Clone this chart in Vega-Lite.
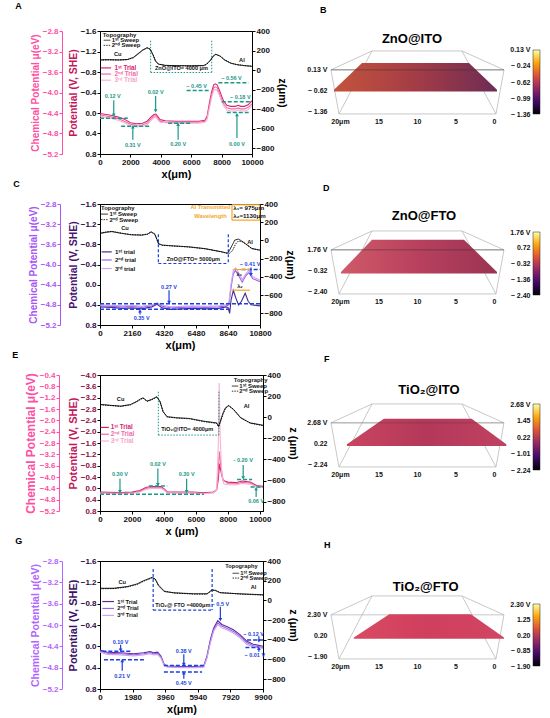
{
"$schema":"https://vega.github.io/schema/vega-lite/v6.json",
"background":"white",
"padding":{"left":11,"top":1,"right":2,"bottom":2},
"columns":3,
"bounds":"flush",
"align":"each",
"spacing":{"row":50,"column":26},
"resolve":{"scale":{"color":"independent","fill":"independent","size":"independent","shape":"independent","strokeDash":"independent"}},
"config":{"font":"Liberation Sans","view":{"stroke":"#000","strokeWidth":1},
"axis":{"grid":false,"labelFontSize":8,"labelFontWeight":"bold","labelColor":"#111","titleFontSize":11,"titleFontWeight":"bold","titleColor":"#000","domainColor":"#000","tickColor":"#000","tickSize":3,"labelPadding":1,"titlePadding":2,"labelFlush":false,"labelOverlap":false},
"title":{"font":"Liberation Sans"},"text":{"font":"Liberation Sans"}},
"datasets":{
"box":[{"x":21.17,"x2":-1.30,"u":2,"u2":2},{"x":15.84,"x2":4.16,"u":2.9,"u2":2.9},{"x":21.17,"x2":15.84,"u":2,"u2":2.9},{"x":-1.30,"x2":4.16,"u":2,"u2":2.9},{"x":21.17,"x2":20.13,"u":2,"u2":-0.1},{"x":-1.30,"x2":-0.26,"u":2,"u2":-0.1},{"x":20.13,"x2":-0.26,"u":-0.1,"u2":-0.1},{"x":15.84,"x2":20.13,"u":2.9,"u2":-0.1},{"x":4.16,"x2":-0.26,"u":2.9,"u2":-0.1}],
"front":[{"x":21.17,"x2":-1.30,"u":2,"u2":2}],
"B_surf":[{"x":20.78,"top":1.05,"bot":0.97},{"x":17.14,"top":2.33,"bot":0.97},{"x":3.25,"top":2.33,"bot":0.97},{"x":-0.39,"top":1.05,"bot":0.97}],
"D_surf":[{"x":19.87,"top":0.95,"bot":0.87},{"x":15.84,"top":2.48,"bot":0.87},{"x":3.9,"top":2.48,"bot":0.87},{"x":-0.39,"top":0.95,"bot":0.87}],
"F_surf":[{"x":19.1,"top":0.98,"bot":0.9},{"x":14.3,"top":2.19,"bot":0.9},{"x":2.9,"top":2.19,"bot":0.9},{"x":-1.6,"top":0.98,"bot":0.9}],
"H_surf":[{"x":18.2,"top":0.92,"bot":0.86},{"x":13.6,"top":2.03,"bot":0.86},{"x":3.0,"top":2.03,"bot":0.86},{"x":-1.3,"top":0.92,"bot":0.86}],

"A_tr":[
{"t":"1st","x":0,"p":0.01},{"t":"1st","x":400,"p":0.03},{"t":"1st","x":800,"p":0.05},{"t":"1st","x":1200,"p":0.08},{"t":"1st","x":1600,"p":0.12},{"t":"1st","x":2000,"p":0.19},{"t":"1st","x":2400,"p":0.21},{"t":"1st","x":2800,"p":0.20},{"t":"1st","x":3100,"p":0.16},{"t":"1st","x":3350,"p":0.08},{"t":"1st","x":3550,"p":0.03},{"t":"1st","x":3680,"p":0.02},{"t":"1st","x":3800,"p":0.07},{"t":"1st","x":3950,"p":0.13},{"t":"1st","x":4300,"p":0.15},{"t":"1st","x":5000,"p":0.16},{"t":"1st","x":5800,"p":0.16},{"t":"1st","x":6500,"p":0.16},{"t":"1st","x":6900,"p":0.14},{"t":"1st","x":7050,"p":0.06},{"t":"1st","x":7200,"p":-0.2},{"t":"1st","x":7350,"p":-0.42},{"t":"1st","x":7480,"p":-0.55},{"t":"1st","x":7580,"p":-0.57},{"t":"1st","x":7700,"p":-0.55},{"t":"1st","x":7850,"p":-0.45},{"t":"1st","x":8000,"p":-0.33},{"t":"1st","x":8150,"p":-0.22},{"t":"1st","x":8350,"p":-0.15},{"t":"1st","x":8600,"p":-0.13},{"t":"1st","x":8900,"p":-0.13},{"t":"1st","x":9100,"p":-0.15},{"t":"1st","x":9250,"p":-0.13},{"t":"1st","x":9500,"p":-0.13},{"t":"1st","x":9750,"p":-0.16},{"t":"1st","x":10000,"p":-0.24},
{"t":"2nd","x":0,"p":0.04},{"t":"2nd","x":400,"p":0.06},{"t":"2nd","x":800,"p":0.08},{"t":"2nd","x":1200,"p":0.11},{"t":"2nd","x":1600,"p":0.16},{"t":"2nd","x":2000,"p":0.22},{"t":"2nd","x":2400,"p":0.24},{"t":"2nd","x":2800,"p":0.23},{"t":"2nd","x":3100,"p":0.20},{"t":"2nd","x":3350,"p":0.12},{"t":"2nd","x":3550,"p":0.06},{"t":"2nd","x":3680,"p":0.05},{"t":"2nd","x":3800,"p":0.10},{"t":"2nd","x":3950,"p":0.16},{"t":"2nd","x":4300,"p":0.18},{"t":"2nd","x":5000,"p":0.18},{"t":"2nd","x":5800,"p":0.18},{"t":"2nd","x":6500,"p":0.18},{"t":"2nd","x":6900,"p":0.16},{"t":"2nd","x":7050,"p":0.09},{"t":"2nd","x":7200,"p":-0.14},{"t":"2nd","x":7350,"p":-0.36},{"t":"2nd","x":7480,"p":-0.49},{"t":"2nd","x":7580,"p":-0.51},{"t":"2nd","x":7700,"p":-0.49},{"t":"2nd","x":7850,"p":-0.39},{"t":"2nd","x":8000,"p":-0.27},{"t":"2nd","x":8150,"p":-0.17},{"t":"2nd","x":8350,"p":-0.10},{"t":"2nd","x":8600,"p":-0.08},{"t":"2nd","x":8900,"p":-0.08},{"t":"2nd","x":9100,"p":-0.10},{"t":"2nd","x":9250,"p":-0.08},{"t":"2nd","x":9500,"p":-0.08},{"t":"2nd","x":9750,"p":-0.11},{"t":"2nd","x":10000,"p":-0.18},
{"t":"3rd","x":0,"p":0.06},{"t":"3rd","x":400,"p":0.09},{"t":"3rd","x":800,"p":0.11},{"t":"3rd","x":1200,"p":0.14},{"t":"3rd","x":1600,"p":0.19},{"t":"3rd","x":2000,"p":0.25},{"t":"3rd","x":2400,"p":0.27},{"t":"3rd","x":2800,"p":0.26},{"t":"3rd","x":3100,"p":0.23},{"t":"3rd","x":3350,"p":0.15},{"t":"3rd","x":3550,"p":0.09},{"t":"3rd","x":3680,"p":0.08},{"t":"3rd","x":3800,"p":0.13},{"t":"3rd","x":3950,"p":0.18},{"t":"3rd","x":4300,"p":0.19},{"t":"3rd","x":5000,"p":0.20},{"t":"3rd","x":5800,"p":0.20},{"t":"3rd","x":6500,"p":0.20},{"t":"3rd","x":6900,"p":0.18},{"t":"3rd","x":7050,"p":0.12},{"t":"3rd","x":7200,"p":-0.10},{"t":"3rd","x":7350,"p":-0.31},{"t":"3rd","x":7480,"p":-0.44},{"t":"3rd","x":7580,"p":-0.46},{"t":"3rd","x":7700,"p":-0.44},{"t":"3rd","x":7850,"p":-0.35},{"t":"3rd","x":8000,"p":-0.23},{"t":"3rd","x":8150,"p":-0.13},{"t":"3rd","x":8350,"p":-0.06},{"t":"3rd","x":8600,"p":-0.04},{"t":"3rd","x":8900,"p":-0.04},{"t":"3rd","x":9100,"p":-0.06},{"t":"3rd","x":9250,"p":-0.05},{"t":"3rd","x":9500,"p":-0.04},{"t":"3rd","x":9750,"p":-0.07},{"t":"3rd","x":10000,"p":-0.14}],
"A_topo":[
{"s":"1st","x":0,"z":105},{"s":"1st","x":600,"z":106},{"s":"1st","x":1200,"z":104},{"s":"1st","x":1800,"z":108},{"s":"1st","x":2200,"z":130},{"s":"1st","x":2500,"z":168},{"s":"1st","x":2800,"z":205},{"s":"1st","x":3100,"z":230},{"s":"1st","x":3300,"z":212},{"s":"1st","x":3500,"z":150},{"s":"1st","x":3650,"z":90},{"s":"1st","x":3850,"z":60},{"s":"1st","x":4300,"z":48},{"s":"1st","x":5000,"z":45},{"s":"1st","x":6000,"z":44},{"s":"1st","x":6800,"z":46},{"s":"1st","x":7000,"z":60},{"s":"1st","x":7250,"z":100},{"s":"1st","x":7450,"z":145},{"s":"1st","x":7620,"z":162},{"s":"1st","x":7900,"z":142},{"s":"1st","x":8200,"z":102},{"s":"1st","x":8600,"z":70},{"s":"1st","x":9000,"z":55},{"s":"1st","x":9500,"z":45},{"s":"1st","x":10000,"z":38},
{"s":"2nd","x":0,"z":102},{"s":"2nd","x":600,"z":104},{"s":"2nd","x":1200,"z":102},{"s":"2nd","x":1800,"z":106},{"s":"2nd","x":2200,"z":126},{"s":"2nd","x":2500,"z":162},{"s":"2nd","x":2800,"z":200},{"s":"2nd","x":3100,"z":226},{"s":"2nd","x":3300,"z":214},{"s":"2nd","x":3500,"z":156},{"s":"2nd","x":3650,"z":96},{"s":"2nd","x":3850,"z":62},{"s":"2nd","x":4300,"z":46},{"s":"2nd","x":5000,"z":43},{"s":"2nd","x":6000,"z":42},{"s":"2nd","x":6800,"z":44},{"s":"2nd","x":7000,"z":56},{"s":"2nd","x":7250,"z":94},{"s":"2nd","x":7450,"z":140},{"s":"2nd","x":7620,"z":160},{"s":"2nd","x":7900,"z":145},{"s":"2nd","x":8200,"z":106},{"s":"2nd","x":8600,"z":72},{"s":"2nd","x":9000,"z":56},{"s":"2nd","x":9500,"z":46},{"s":"2nd","x":10000,"z":40}],
"A_seg":[{"x":0,"x2":1830,"p":0.10},{"x":1390,"x2":3270,"p":0.26},{"x":4480,"x2":6030,"p":0.20},{"x":5700,"x2":7240,"p":-0.44},{"x":7790,"x2":9780,"p":-0.59},{"x":8010,"x2":10000,"p":-0.22},{"x":8340,"x2":9780,"p":-0.01}],
"A_box":[{"x":3330,"x2":3330,"p":-1.41,"p2":-0.79},{"x":7350,"x2":7350,"p":-1.41,"p2":-0.79},{"x":3330,"x2":7350,"p":-0.79,"p2":-0.79}],
"A_arr":[{"x":905,"p1":-0.25,"p2":0.04,"d":"down"},{"x":3660,"p1":-0.33,"p2":-0.04,"d":"down"},{"x":2160,"p1":0.52,"p2":0.27,"d":"up"},{"x":5140,"p1":0.52,"p2":0.22,"d":"up"},{"x":9010,"p1":0.49,"p2":0.03,"d":"up"}],
"A_lg":[{"x":70,"x2":730,"p":-0.88,"t":"1st"},{"x":70,"x2":730,"p":-0.76,"t":"2nd"},{"x":70,"x2":730,"p":-0.64,"t":"3rd"}],
"A_tlg":[{"x":240,"x2":680,"p":-1.42,"s":"1st"},{"x":240,"x2":680,"p":-1.32,"s":"2nd"}],
"A_txt":[{"x":840,"p":-0.33,"t":"0.12 V","k":"lab"},{"x":3660,"p":-0.41,"t":"0.02 V","k":"lab"},{"x":2160,"p":0.62,"t":"0.31 V","k":"lab"},{"x":5140,"p":0.60,"t":"0.20 V","k":"lab"},{"x":6360,"p":-0.52,"t":"− 0.45 V","k":"lab"},{"x":8650,"p":-0.69,"t":"− 0.56 V","k":"lab"},{"x":9230,"p":-0.31,"t":"− 0.18 V","k":"lab"},{"x":9010,"p":0.60,"t":"0.00 V","k":"lab"},{"x":5360,"p":-0.87,"t":"ZnO@ITO= 4000 μm","k":"box"},{"x":1170,"p":-1.15,"t":"Cu","k":"cu"},{"x":9340,"p":-1.03,"t":"Al","k":"cu"}],
"A_ltxt":[{"x":177,"p":-1.52,"t":"Topography","k":"ttl"},{"x":770,"p":-1.42,"t":"1ˢᵗ Sweep","k":"sw"},{"x":770,"p":-1.32,"t":"2ⁿᵈ Sweep","k":"sw"},{"x":950,"p":-0.88,"t":"1ˢᵗ Trial","k":"p1"},{"x":950,"p":-0.76,"t":"2ⁿᵈ Trial","k":"p2"},{"x":950,"p":-0.64,"t":"3ʳᵈ Trial","k":"p3"}],

"C_tr":[
{"t":"1st","x":0,"p":0.44},{"t":"1st","x":800,"p":0.45},{"t":"1st","x":1500,"p":0.47},{"t":"1st","x":2200,"p":0.46},{"t":"1st","x":2800,"p":0.48},{"t":"1st","x":3500,"p":0.44},{"t":"1st","x":3850,"p":0.39},{"t":"1st","x":4200,"p":0.46},{"t":"1st","x":4800,"p":0.49},{"t":"1st","x":5500,"p":0.48},{"t":"1st","x":6300,"p":0.47},{"t":"1st","x":7100,"p":0.48},{"t":"1st","x":8000,"p":0.47},{"t":"1st","x":8500,"p":0.44},{"t":"1st","x":8640,"p":0.45},{"t":"1st","x":8750,"p":0.57},{"t":"1st","x":8850,"p":0.30},{"t":"1st","x":9000,"p":0.11},{"t":"1st","x":9150,"p":0.25},{"t":"1st","x":9350,"p":0.40},{"t":"1st","x":9550,"p":0.33},{"t":"1st","x":9800,"p":0.17},{"t":"1st","x":10000,"p":0.33},{"t":"1st","x":10200,"p":0.40},{"t":"1st","x":10800,"p":0.42},
{"t":"2nd","x":0,"p":0.42},{"t":"2nd","x":800,"p":0.43},{"t":"2nd","x":1500,"p":0.44},{"t":"2nd","x":2200,"p":0.43},{"t":"2nd","x":2800,"p":0.45},{"t":"2nd","x":3500,"p":0.42},{"t":"2nd","x":3850,"p":0.37},{"t":"2nd","x":4200,"p":0.43},{"t":"2nd","x":4800,"p":0.46},{"t":"2nd","x":5500,"p":0.45},{"t":"2nd","x":6300,"p":0.44},{"t":"2nd","x":7100,"p":0.45},{"t":"2nd","x":8000,"p":0.44},{"t":"2nd","x":8500,"p":0.42},{"t":"2nd","x":8700,"p":0.40},{"t":"2nd","x":8850,"p":0.05},{"t":"2nd","x":9000,"p":-0.22},{"t":"2nd","x":9150,"p":-0.28},{"t":"2nd","x":9350,"p":-0.18},{"t":"2nd","x":9600,"p":-0.05},{"t":"2nd","x":9850,"p":-0.18},{"t":"2nd","x":10050,"p":-0.24},{"t":"2nd","x":10300,"p":-0.12},{"t":"2nd","x":10800,"p":-0.06},
{"t":"3rd","x":0,"p":0.40},{"t":"3rd","x":800,"p":0.41},{"t":"3rd","x":1500,"p":0.42},{"t":"3rd","x":2200,"p":0.41},{"t":"3rd","x":2800,"p":0.43},{"t":"3rd","x":3500,"p":0.40},{"t":"3rd","x":3850,"p":0.36},{"t":"3rd","x":4200,"p":0.41},{"t":"3rd","x":4800,"p":0.44},{"t":"3rd","x":5500,"p":0.43},{"t":"3rd","x":6300,"p":0.42},{"t":"3rd","x":7100,"p":0.43},{"t":"3rd","x":8000,"p":0.42},{"t":"3rd","x":8500,"p":0.40},{"t":"3rd","x":8700,"p":0.36},{"t":"3rd","x":8850,"p":-0.02},{"t":"3rd","x":9000,"p":-0.28},{"t":"3rd","x":9150,"p":-0.33},{"t":"3rd","x":9350,"p":-0.24},{"t":"3rd","x":9600,"p":-0.10},{"t":"3rd","x":9850,"p":-0.22},{"t":"3rd","x":10050,"p":-0.28},{"t":"3rd","x":10300,"p":-0.16},{"t":"3rd","x":10800,"p":-0.09}],
"C_topo":[
{"s":"1st","x":0,"z":77},{"s":"1st","x":450,"z":90},{"s":"1st","x":800,"z":97},{"s":"1st","x":1200,"z":85},{"s":"1st","x":1500,"z":77},{"s":"1st","x":2100,"z":62},{"s":"1st","x":2800,"z":58},{"s":"1st","x":3200,"z":68},{"s":"1st","x":3450,"z":95},{"s":"1st","x":3700,"z":70},{"s":"1st","x":3850,"z":10},{"s":"1st","x":3950,"z":-35},{"s":"1st","x":4200,"z":-51},{"s":"1st","x":5000,"z":-60},{"s":"1st","x":6000,"z":-70},{"s":"1st","x":7100,"z":-90},{"s":"1st","x":8200,"z":-124},{"s":"1st","x":8600,"z":-140},{"s":"1st","x":8700,"z":-120},{"s":"1st","x":8900,"z":-60},{"s":"1st","x":9100,"z":4},{"s":"1st","x":9350,"z":15},{"s":"1st","x":9600,"z":-10},{"s":"1st","x":9800,"z":-33},{"s":"1st","x":10250,"z":-88},{"s":"1st","x":10800,"z":-106},
{"s":"2nd","x":0,"z":80},{"s":"2nd","x":450,"z":95},{"s":"2nd","x":800,"z":100},{"s":"2nd","x":1200,"z":88},{"s":"2nd","x":1500,"z":78},{"s":"2nd","x":2100,"z":64},{"s":"2nd","x":2800,"z":60},{"s":"2nd","x":3200,"z":70},{"s":"2nd","x":3450,"z":92},{"s":"2nd","x":3700,"z":68},{"s":"2nd","x":3850,"z":5},{"s":"2nd","x":3950,"z":-38},{"s":"2nd","x":4200,"z":-53},{"s":"2nd","x":5000,"z":-62},{"s":"2nd","x":6000,"z":-72},{"s":"2nd","x":7100,"z":-92},{"s":"2nd","x":8200,"z":-126},{"s":"2nd","x":8600,"z":-142},{"s":"2nd","x":8750,"z":-140},{"s":"2nd","x":8950,"z":-110},{"s":"2nd","x":9150,"z":-40},{"s":"2nd","x":9350,"z":-5},{"s":"2nd","x":9600,"z":-15},{"s":"2nd","x":9800,"z":-35},{"s":"2nd","x":10250,"z":-90},{"s":"2nd","x":10800,"z":-108}],
"C_seg":[{"x":0,"x2":10800,"p":0.38},{"x":0,"x2":8890,"p":0.49},{"x":9560,"x2":10800,"p":-0.30}],
"C_box":[{"x":3940,"x2":3940,"p":-1.0,"p2":-0.42},{"x":8660,"x2":8660,"p":-1.0,"p2":-0.42},{"x":3940,"x2":8660,"p":-0.42,"p2":-0.42}],
"C_org":[{"x":8960,"x2":10125,"p":-0.30,"p2":-0.30},{"x":8890,"x2":10125,"p":0.11,"p2":0.11},{"x":8910,"x2":10780,"p":-1.585,"p2":-1.585},{"x":8910,"x2":10780,"p":-1.28,"p2":-1.28},{"x":8910,"x2":8910,"p":-1.585,"p2":-1.28},{"x":10780,"x2":10780,"p":-1.585,"p2":-1.28}],
"C_arr":[{"x":4660,"p1":0.11,"p2":0.35,"d":"down"},{"x":2700,"p1":0.59,"p2":0.52,"d":"up"},{"x":10190,"p1":-0.34,"p2":-0.20,"d":"down"}],
"C_lg":[{"x":110,"x2":790,"p":-0.65,"t":"1st"},{"x":110,"x2":790,"p":-0.49,"t":"2nd"},{"x":110,"x2":790,"p":-0.32,"t":"3rd"}],
"C_tlg":[{"x":70,"x2":540,"p":-1.40,"s":"1st"},{"x":70,"x2":540,"p":-1.29,"s":"2nd"}],
"C_txt":[{"x":4660,"p":0.05,"t":"0.27 V","k":"lab"},{"x":2810,"p":0.66,"t":"0.35 V","k":"lab"},{"x":10130,"p":-0.41,"t":"− 0.41 V","k":"lab"},{"x":6300,"p":-0.51,"t":"ZnO@FTO= 5000μm","k":"box"},{"x":1690,"p":-1.12,"t":"Cu","k":"cu"},{"x":10125,"p":-0.85,"t":"Al","k":"cu"},{"x":7460,"p":-1.54,"t":"Al Transmitted","k":"org"},{"x":7460,"p":-1.36,"t":"Wavelength","k":"org"},{"x":9400,"p":-0.22,"t":"λ₁","k":"cu"},{"x":9450,"p":0.03,"t":"λ₂","k":"cu"}],
"C_ltxt":[{"x":70,"p":-1.53,"t":"Topography","k":"ttl"},{"x":640,"p":-1.40,"t":"1ˢᵗ Sweep","k":"sw"},{"x":640,"p":-1.29,"t":"2ⁿᵈ Sweep","k":"sw"},{"x":1010,"p":-0.65,"t":"1ˢᵗ trial","k":"tr"},{"x":1010,"p":-0.49,"t":"2ⁿᵈ trial","k":"tr"},{"x":1010,"p":-0.32,"t":"3ʳᵈ trial","k":"tr"},{"x":8990,"p":-1.52,"t":"λ₁= 975μm","k":"lam"},{"x":8990,"p":-1.37,"t":"λ₂=1130μm","k":"lam"}],

"E_tr":[
{"t":"1st","x":0,"p":0.13},{"t":"1st","x":600,"p":0.14},{"t":"1st","x":1300,"p":0.15},{"t":"1st","x":2000,"p":0.13},{"t":"1st","x":2500,"p":0.08},{"t":"1st","x":2900,"p":-0.04},{"t":"1st","x":3300,"p":-0.06},{"t":"1st","x":3800,"p":-0.06},{"t":"1st","x":4000,"p":0.01},{"t":"1st","x":4200,"p":0.12},{"t":"1st","x":5000,"p":0.13},{"t":"1st","x":5800,"p":0.13},{"t":"1st","x":6500,"p":0.16},{"t":"1st","x":7100,"p":0.13},{"t":"1st","x":7300,"p":0.05},{"t":"1st","x":7400,"p":-0.3},{"t":"1st","x":7480,"p":-0.87},{"t":"1st","x":7580,"p":-0.55},{"t":"1st","x":7700,"p":-0.28},{"t":"1st","x":8000,"p":-0.22},{"t":"1st","x":8500,"p":-0.20},{"t":"1st","x":8900,"p":-0.26},{"t":"1st","x":9400,"p":-0.22},{"t":"1st","x":9800,"p":-0.10},{"t":"1st","x":10200,"p":-0.07},
{"t":"2nd","x":0,"p":0.16},{"t":"2nd","x":600,"p":0.17},{"t":"2nd","x":1300,"p":0.17},{"t":"2nd","x":2000,"p":0.16},{"t":"2nd","x":2500,"p":0.11},{"t":"2nd","x":2900,"p":0.0},{"t":"2nd","x":3300,"p":-0.03},{"t":"2nd","x":3800,"p":-0.03},{"t":"2nd","x":4000,"p":0.04},{"t":"2nd","x":4200,"p":0.14},{"t":"2nd","x":5000,"p":0.15},{"t":"2nd","x":5800,"p":0.15},{"t":"2nd","x":6500,"p":0.18},{"t":"2nd","x":7100,"p":0.15},{"t":"2nd","x":7300,"p":0.06},{"t":"2nd","x":7400,"p":-0.6},{"t":"2nd","x":7470,"p":-1.3},{"t":"2nd","x":7560,"p":-0.8},{"t":"2nd","x":7700,"p":-0.3},{"t":"2nd","x":8000,"p":-0.17},{"t":"2nd","x":8500,"p":-0.16},{"t":"2nd","x":8900,"p":-0.21},{"t":"2nd","x":9400,"p":-0.18},{"t":"2nd","x":9800,"p":-0.07},{"t":"2nd","x":10200,"p":-0.04},
{"t":"3rd","x":0,"p":0.18},{"t":"3rd","x":600,"p":0.19},{"t":"3rd","x":1300,"p":0.19},{"t":"3rd","x":2000,"p":0.18},{"t":"3rd","x":2500,"p":0.13},{"t":"3rd","x":2900,"p":0.03},{"t":"3rd","x":3300,"p":0.0},{"t":"3rd","x":3800,"p":0.0},{"t":"3rd","x":4000,"p":0.06},{"t":"3rd","x":4200,"p":0.16},{"t":"3rd","x":5000,"p":0.17},{"t":"3rd","x":5800,"p":0.17},{"t":"3rd","x":6500,"p":0.19},{"t":"3rd","x":7100,"p":0.16},{"t":"3rd","x":7300,"p":0.05},{"t":"3rd","x":7400,"p":-1.5},{"t":"3rd","x":7460,"p":-3.72},{"t":"3rd","x":7520,"p":-1.8},{"t":"3rd","x":7620,"p":-0.5},{"t":"3rd","x":7750,"p":-0.15},{"t":"3rd","x":8000,"p":-0.13},{"t":"3rd","x":8500,"p":-0.12},{"t":"3rd","x":8900,"p":-0.17},{"t":"3rd","x":9400,"p":-0.15},{"t":"3rd","x":9800,"p":-0.05},{"t":"3rd","x":10200,"p":-0.03}],
"E_topo":[
{"s":"1st","x":0,"z":121},{"s":"1st","x":700,"z":112},{"s":"1st","x":1300,"z":105},{"s":"1st","x":1900,"z":120},{"s":"1st","x":2300,"z":150},{"s":"1st","x":2550,"z":175},{"s":"1st","x":2700,"z":183},{"s":"1st","x":2950,"z":153},{"s":"1st","x":3250,"z":170},{"s":"1st","x":3550,"z":194},{"s":"1st","x":3750,"z":150},{"s":"1st","x":3950,"z":50},{"s":"1st","x":4200,"z":5},{"s":"1st","x":4800,"z":-5},{"s":"1st","x":5600,"z":-12},{"s":"1st","x":6500,"z":-38},{"s":"1st","x":7300,"z":-54},{"s":"1st","x":7420,"z":-86},{"s":"1st","x":7550,"z":-30},{"s":"1st","x":7700,"z":40},{"s":"1st","x":7850,"z":89},{"s":"1st","x":8050,"z":111},{"s":"1st","x":8350,"z":73},{"s":"1st","x":8800,"z":-6},{"s":"1st","x":9400,"z":-54},{"s":"1st","x":10200,"z":-76},
{"s":"2nd","x":0,"z":118},{"s":"2nd","x":700,"z":110},{"s":"2nd","x":1300,"z":102},{"s":"2nd","x":1900,"z":116},{"s":"2nd","x":2300,"z":146},{"s":"2nd","x":2550,"z":170},{"s":"2nd","x":2700,"z":180},{"s":"2nd","x":2950,"z":150},{"s":"2nd","x":3250,"z":166},{"s":"2nd","x":3550,"z":190},{"s":"2nd","x":3750,"z":152},{"s":"2nd","x":3950,"z":55},{"s":"2nd","x":4200,"z":2},{"s":"2nd","x":4800,"z":-8},{"s":"2nd","x":5600,"z":-15},{"s":"2nd","x":6500,"z":-42},{"s":"2nd","x":7300,"z":-58},{"s":"2nd","x":7420,"z":-90},{"s":"2nd","x":7550,"z":-40},{"s":"2nd","x":7700,"z":30},{"s":"2nd","x":7850,"z":82},{"s":"2nd","x":8050,"z":108},{"s":"2nd","x":8350,"z":76},{"s":"2nd","x":8800,"z":-3},{"s":"2nd","x":9400,"z":-57},{"s":"2nd","x":10200,"z":-80}],
"E_seg":[{"x":0,"x2":6500,"p":0.21},{"x":3060,"x2":4210,"p":-0.08},{"x":8580,"x2":9520,"p":-0.31},{"x":9420,"x2":10200,"p":-0.05}],
"E_box":[{"x":3650,"x2":3650,"p":-3.41,"p2":-1.88},{"x":7440,"x2":7440,"p":-3.41,"p2":-1.88},{"x":3650,"x2":7440,"p":-1.88,"p2":-1.88}],
"E_arr":[{"x":1250,"p1":-0.34,"p2":0.12,"d":"down"},{"x":3620,"p1":-0.70,"p2":-0.13,"d":"down"},{"x":5420,"p1":-0.34,"p2":0.12,"d":"down"},{"x":8960,"p1":-0.82,"p2":-0.37,"d":"down"},{"x":9770,"p1":0.31,"p2":0.01,"d":"up"}],
"E_lg":[{"x":40,"x2":560,"p":-2.15,"t":"1st"},{"x":40,"x2":560,"p":-1.91,"t":"2nd"},{"x":40,"x2":560,"p":-1.67,"t":"3rd"}],
"E_tlg":[{"x":8250,"x2":8650,"p":-3.61,"s":"1st"},{"x":8250,"x2":8650,"p":-3.43,"s":"2nd"}],
"E_txt":[{"x":1250,"p":-0.50,"t":"0.30 V","k":"lab"},{"x":3620,"p":-0.85,"t":"0.02 V","k":"lab"},{"x":5420,"p":-0.50,"t":"0.30 V","k":"lab"},{"x":8960,"p":-0.99,"t":"- 0.20 V","k":"lab"},{"x":9770,"p":0.45,"t":"0.06 V","k":"lab"},{"x":5460,"p":-2.11,"t":"TiO₂@ITO= 4000μm","k":"box"},{"x":1290,"p":-3.14,"t":"Cu","k":"cu"},{"x":9170,"p":-2.90,"t":"Al","k":"cu"}],
"E_ltxt":[{"x":8375,"p":-3.84,"t":"Topography","k":"ttl"},{"x":8720,"p":-3.61,"t":"1ˢᵗ Sweep","k":"sw"},{"x":8720,"p":-3.43,"t":"2ⁿᵈ Sweep","k":"sw"},{"x":670,"p":-2.15,"t":"1ˢᵗ Trial","k":"p1"},{"x":670,"p":-1.91,"t":"2ⁿᵈ Trial","k":"p2"},{"x":670,"p":-1.67,"t":"3ʳᵈ Trial","k":"p3"}],

"G_tr":[
{"t":"1st","x":0,"p":0.07},{"t":"1st","x":450,"p":0.11},{"t":"1st","x":1250,"p":0.12},{"t":"1st","x":2050,"p":0.14},{"t":"1st","x":2650,"p":0.12},{"t":"1st","x":3050,"p":0.10},{"t":"1st","x":3250,"p":0.12},{"t":"1st","x":3500,"p":0.11},{"t":"1st","x":3700,"p":0.18},{"t":"1st","x":3900,"p":0.34},{"t":"1st","x":4100,"p":0.37},{"t":"1st","x":4900,"p":0.38},{"t":"1st","x":5700,"p":0.38},{"t":"1st","x":6300,"p":0.37},{"t":"1st","x":6500,"p":0.18},{"t":"1st","x":6700,"p":-0.12},{"t":"1st","x":6900,"p":-0.34},{"t":"1st","x":7150,"p":-0.48},{"t":"1st","x":7400,"p":-0.41},{"t":"1st","x":7700,"p":-0.37},{"t":"1st","x":8100,"p":-0.31},{"t":"1st","x":8500,"p":-0.22},{"t":"1st","x":8900,"p":-0.10},{"t":"1st","x":9300,"p":-0.04},{"t":"1st","x":9900,"p":0.0},
{"t":"2nd","x":0,"p":0.09},{"t":"2nd","x":450,"p":0.13},{"t":"2nd","x":1250,"p":0.14},{"t":"2nd","x":2050,"p":0.16},{"t":"2nd","x":2650,"p":0.14},{"t":"2nd","x":3050,"p":0.12},{"t":"2nd","x":3250,"p":0.14},{"t":"2nd","x":3500,"p":0.13},{"t":"2nd","x":3700,"p":0.2},{"t":"2nd","x":3900,"p":0.35},{"t":"2nd","x":4100,"p":0.38},{"t":"2nd","x":4900,"p":0.39},{"t":"2nd","x":5700,"p":0.39},{"t":"2nd","x":6300,"p":0.38},{"t":"2nd","x":6500,"p":0.2},{"t":"2nd","x":6700,"p":-0.09},{"t":"2nd","x":6900,"p":-0.31},{"t":"2nd","x":7150,"p":-0.44},{"t":"2nd","x":7400,"p":-0.38},{"t":"2nd","x":7700,"p":-0.34},{"t":"2nd","x":8100,"p":-0.28},{"t":"2nd","x":8500,"p":-0.19},{"t":"2nd","x":8900,"p":-0.07},{"t":"2nd","x":9300,"p":-0.01},{"t":"2nd","x":9900,"p":0.02},
{"t":"3rd","x":0,"p":0.11},{"t":"3rd","x":450,"p":0.15},{"t":"3rd","x":1250,"p":0.16},{"t":"3rd","x":2050,"p":0.18},{"t":"3rd","x":2650,"p":0.16},{"t":"3rd","x":3050,"p":0.14},{"t":"3rd","x":3250,"p":0.16},{"t":"3rd","x":3500,"p":0.15},{"t":"3rd","x":3700,"p":0.22},{"t":"3rd","x":3900,"p":0.36},{"t":"3rd","x":4100,"p":0.39},{"t":"3rd","x":4900,"p":0.40},{"t":"3rd","x":5700,"p":0.40},{"t":"3rd","x":6300,"p":0.39},{"t":"3rd","x":6500,"p":0.22},{"t":"3rd","x":6700,"p":-0.06},{"t":"3rd","x":6900,"p":-0.28},{"t":"3rd","x":7150,"p":-0.41},{"t":"3rd","x":7400,"p":-0.35},{"t":"3rd","x":7700,"p":-0.31},{"t":"3rd","x":8100,"p":-0.25},{"t":"3rd","x":8500,"p":-0.16},{"t":"3rd","x":8900,"p":-0.04},{"t":"3rd","x":9300,"p":0.01},{"t":"3rd","x":9900,"p":0.04}],
"G_topo":[
{"s":"1st","x":0,"z":123},{"s":"1st","x":850,"z":123},{"s":"1st","x":1650,"z":140},{"s":"1st","x":2250,"z":167},{"s":"1st","x":2650,"z":200},{"s":"1st","x":3150,"z":233},{"s":"1st","x":3350,"z":217},{"s":"1st","x":3550,"z":150},{"s":"1st","x":3900,"z":90},{"s":"1st","x":4500,"z":77},{"s":"1st","x":5700,"z":67},{"s":"1st","x":6500,"z":67},{"s":"1st","x":6800,"z":107},{"s":"1st","x":7000,"z":100},{"s":"1st","x":7300,"z":77},{"s":"1st","x":8500,"z":67},{"s":"1st","x":9900,"z":57},
{"s":"2nd","x":0,"z":118},{"s":"2nd","x":850,"z":120},{"s":"2nd","x":1650,"z":136},{"s":"2nd","x":2250,"z":162},{"s":"2nd","x":2650,"z":195},{"s":"2nd","x":3150,"z":228},{"s":"2nd","x":3350,"z":220},{"s":"2nd","x":3550,"z":158},{"s":"2nd","x":3900,"z":95},{"s":"2nd","x":4500,"z":75},{"s":"2nd","x":5700,"z":64},{"s":"2nd","x":6500,"z":64},{"s":"2nd","x":6800,"z":102},{"s":"2nd","x":7000,"z":104},{"s":"2nd","x":7300,"z":80},{"s":"2nd","x":8500,"z":64},{"s":"2nd","x":9900,"z":54}],
"G_seg":[{"x":140,"x2":1960,"p":0.09},{"x":240,"x2":2670,"p":0.25},{"x":3880,"x2":6300,"p":0.36},{"x":3880,"x2":6200,"p":0.48},{"x":8930,"x2":9900,"p":-0.12},{"x":8830,"x2":9640,"p":0.02}],
"G_box":[{"x":3230,"x2":3230,"p":-1.45,"p2":-0.68},{"x":6810,"x2":6810,"p":-1.45,"p2":-0.68},{"x":3230,"x2":6810,"p":-0.68,"p2":-0.68}],
"G_arr":[{"x":1250,"p1":-0.03,"p2":0.07,"d":"down"},{"x":1350,"p1":0.46,"p2":0.27,"d":"up"},{"x":5090,"p1":0.15,"p2":0.34,"d":"down"},{"x":5090,"p1":0.61,"p2":0.50,"d":"up"},{"x":7310,"p1":-0.74,"p2":-0.50,"d":"down"},{"x":9650,"p1":-0.19,"p2":-0.10,"d":"down"},{"x":9650,"p1":0.10,"p2":0.04,"d":"up"}],
"G_lg":[{"x":140,"x2":850,"p":-0.84,"t":"1st"},{"x":140,"x2":850,"p":-0.71,"t":"2nd"},{"x":140,"x2":850,"p":-0.58,"t":"3rd"}],
"G_tlg":[{"x":8050,"x2":8450,"p":-1.37,"s":"1st"},{"x":8050,"x2":8450,"p":-1.28,"s":"2nd"}],
"G_txt":[{"x":1250,"p":-0.09,"t":"0.10 V","k":"lab"},{"x":1350,"p":0.56,"t":"0.21 V","k":"lab"},{"x":5090,"p":0.09,"t":"0.38 V","k":"lab"},{"x":5090,"p":0.68,"t":"0.45 V","k":"lab"},{"x":7310,"p":-0.80,"t":"− 0.5 V","k":"lab"},{"x":9330,"p":-0.24,"t":"− 0.12 V","k":"lab"},{"x":9400,"p":0.16,"t":"− 0.01 V","k":"lab"},{"x":5030,"p":-0.78,"t":"TiO₂@ FTO =4000μm","k":"box"},{"x":1350,"p":-1.21,"t":"Cu","k":"cu"},{"x":9330,"p":-1.11,"t":"Al","k":"cu"}],
"G_ltxt":[{"x":7600,"p":-1.51,"t":"Topography","k":"ttl"},{"x":8520,"p":-1.37,"t":"1ˢᵗ Sweep","k":"sw"},{"x":8520,"p":-1.28,"t":"2ⁿᵈ Sweep","k":"sw"},{"x":1050,"p":-0.84,"t":"1ˢᵗ Trial","k":"tr"},{"x":1050,"p":-0.71,"t":"2ⁿᵈ Trial","k":"tr"},{"x":1050,"p":-0.58,"t":"3ʳᵈ Trial","k":"tr"}]
},
"concat":[
{"width":152,"height":123,
"title":{"text":"A","anchor":"start","frame":"bounds","fontSize":9,"fontWeight":"bold","offset":16,"dx":-15},
"layer":[
{"layer":[
{"data":{"name":"A_tr"},"mark":{"type":"line","strokeWidth":1.1},"encoding":{"x":{"field":"x","type":"quantitative","scale":{"domain":[0,10000],"nice":false,"zero":false},"axis":null},"y":{"field":"p","type":"quantitative","scale":{"domain":[-1.6,0.8],"reverse":true,"nice":false,"zero":false},"axis":null},"color":{"field":"t","type":"nominal","scale":{"domain":["1st","2nd","3rd"],"range":["#d6246e","#f06aa8","#f7b3d2"]},"legend":null}}},
{"data":{"name":"A_seg"},"mark":{"type":"rule","strokeDash":[4,2],"strokeWidth":1.5,"color":"#17998a"},"encoding":{"x":{"field":"x","type":"quantitative","axis":null},"x2":{"field":"x2"},"y":{"field":"p","type":"quantitative","axis":null}}},
{"data":{"name":"A_box"},"mark":{"type":"rule","strokeDash":[1.5,1.5],"strokeWidth":1,"color":"#17998a"},"encoding":{"x":{"field":"x","type":"quantitative","axis":null},"x2":{"field":"x2"},"y":{"field":"p","type":"quantitative","axis":null},"y2":{"field":"p2"}}},
{"data":{"name":"A_arr"},"mark":{"type":"rule","strokeWidth":1.2,"color":"#17998a"},"encoding":{"x":{"field":"x","type":"quantitative","axis":null},"y":{"field":"p1","type":"quantitative","axis":null},"y2":{"field":"p2"}}},
{"data":{"name":"A_arr"},"mark":{"type":"point","filled":true,"opacity":1,"size":14,"color":"#17998a"},"encoding":{"x":{"field":"x","type":"quantitative","axis":null},"y":{"field":"p2","type":"quantitative","axis":null},"shape":{"field":"d","type":"nominal","scale":{"domain":["down","up"],"range":["triangle-down","triangle-up"]},"legend":null}}},
{"data":{"name":"A_lg"},"mark":{"type":"rule","strokeWidth":1.2},"encoding":{"x":{"field":"x","type":"quantitative","axis":null},"x2":{"field":"x2"},"y":{"field":"p","type":"quantitative","axis":null},"color":{"field":"t","type":"nominal","legend":null}}},
{"data":{"name":"A_tlg"},"mark":{"type":"rule","strokeWidth":0.8,"color":"#000"},"encoding":{"x":{"field":"x","type":"quantitative","axis":null},"x2":{"field":"x2"},"y":{"field":"p","type":"quantitative","axis":null},"strokeDash":{"field":"s","type":"nominal","scale":{"domain":["1st","2nd"],"range":[[1,0],[1.5,1]]},"legend":null}}},
{"data":{"name":"A_txt"},"mark":{"type":"text","fontWeight":"bold"},"encoding":{"x":{"field":"x","type":"quantitative","axis":null},"y":{"field":"p","type":"quantitative","axis":null},"text":{"field":"t"},"fill":{"field":"k","type":"nominal","scale":{"domain":["lab","box","cu","org","ttl","sw","tr","lam","p1","p2","p3"],"range":["#17998a","#111","#111","#f39c12","#111","#111","#111","#111","#d6246e","#f06aa8","#f7a8cc"]},"legend":null},"size":{"field":"k","type":"nominal","scale":{"domain":["lab","box","cu","org","ttl","sw","tr","lam","p1","p2","p3"],"range":[5.5,6.5,7,5,5.5,4,4.5,4,4.5,4.5,4.5]},"legend":null}}},
{"data":{"name":"A_ltxt"},"mark":{"type":"text","fontWeight":"bold","align":"left"},"encoding":{"x":{"field":"x","type":"quantitative","axis":null},"y":{"field":"p","type":"quantitative","axis":null},"text":{"field":"t"},"fill":{"field":"k","type":"nominal","legend":null},"size":{"field":"k","type":"nominal","legend":null}}}
]},
{"data":{"values":[{"ax":0,"ap":-1.6},{"ax":10000,"ap":0.8}]},"mark":{"type":"point","opacity":0},"encoding":{"x":{"field":"ax","type":"quantitative","title":"x(μm)","scale":{"domain":[0,10000],"nice":false,"zero":false},"axis":{"orient":"bottom","values":[0,2000,4000,6000,8000,10000],"format":"d"}},"y":{"field":"ap","type":"quantitative","title":"Potential (V, SHE)","scale":{"domain":[-1.6,0.8],"reverse":true,"nice":false,"zero":false},"axis":{"orient":"left","values":[-1.6,-1.2,-0.8,-0.4,0,0.4,0.8],"format":".1f","titleColor":"#c2185b","titleFontSize":10.5}}}},
{"data":{"values":[{"c":-5.2},{"c":-2.8}]},"mark":{"type":"point","opacity":0},"encoding":{"y":{"field":"c","type":"quantitative","title":"Chemical Potential μ(eV)","scale":{"domain":[-5.2,-2.8],"nice":false,"zero":false},"axis":{"orient":"left","offset":38,"values":[-5.2,-4.8,-4.4,-4.0,-3.6,-3.2,-2.8],"format":".1f","labelColor":"#ff4fa3","titleColor":"#ff4fa3","domainColor":"#ff4fa3","tickColor":"#ff4fa3","titleFontSize":10}}}},
{"data":{"name":"A_topo"},"mark":{"type":"line","strokeWidth":0.9,"color":"#000"},"encoding":{"x":{"field":"x","type":"quantitative","scale":{"domain":[0,10000],"nice":false,"zero":false},"axis":null},"y":{"field":"z","type":"quantitative","title":"z(μm)","scale":{"domain":[-860,400],"nice":false,"zero":false},"axis":{"orient":"right","values":[-800,-600,-400,-200,0,200,400]}},"strokeDash":{"field":"s","type":"nominal","scale":{"domain":["1st","2nd"],"range":[[1,0],[1.5,1]]},"legend":null}}}
],
"resolve":{"scale":{"x":"independent","y":"independent"}}},

{"width":218,"height":84,"view":{"stroke":null},
"title":{"text":"B","anchor":"start","frame":"bounds","fontSize":9,"fontWeight":"bold","offset":16,"dx":31},
"layer":[
{"data":{"name":"box"},"mark":{"type":"rule","color":"#b0b0b0","strokeWidth":0.7},"encoding":{"x":{"field":"x","type":"quantitative","title":null,"scale":{"domain":[-1.69,26.62],"reverse":true,"nice":false,"zero":false},"axis":{"values":[0,5,10,15,20],"labelExpr":"datum.value==20?'20μm':datum.label","domain":false,"ticks":false,"labelFontSize":7,"labelPadding":2}},"x2":{"field":"x2"},"y":{"field":"u","type":"quantitative","title":null,"scale":{"domain":[-0.15,3.85],"nice":false,"zero":false},"axis":{"orient":"left","values":[0,1,2],"labelExpr":"datum.value==2?'0.13 V':datum.value==1?'− 0.62':'− 1.36'","domain":false,"ticks":false,"labelFontSize":7,"offset":-40,"labelPadding":2}},"y2":{"field":"u2"}}},
{"data":{"name":"B_surf"},"mark":{"type":"area","fill":{"gradient":"linear","x1":0,"y1":0,"x2":1,"y2":0,"stops":[{"offset":0,"color":"#c4543c"},{"offset":0.5,"color":"#a43c46"},{"offset":1,"color":"#6e2c55"}]}},"encoding":{"x":{"field":"x","type":"quantitative","title":null},"y":{"field":"top","type":"quantitative","title":null},"y2":{"field":"bot"}}},
{"data":{"name":"front"},"mark":{"type":"rule","color":"#333","strokeWidth":0.8,"opacity":0.6},"encoding":{"x":{"field":"x","type":"quantitative","title":null},"x2":{"field":"x2"},"y":{"field":"u","type":"quantitative","title":null},"y2":{"field":"u2"}}},
{"data":{"values":[{"x":10.65,"u":3.47,"t":"ZnO@ITO"}]},"mark":{"type":"text","fontSize":13,"fontWeight":"bold"},"encoding":{"x":{"field":"x","type":"quantitative","title":null},"y":{"field":"u","type":"quantitative","title":null},"text":{"field":"t"}}}
]},

{"width":7,"height":83,"view":{"stroke":null},"data":{"values":[{"lo":-1.36,"hi":0.13}]},
"mark":{"type":"rect","stroke":"#222","strokeWidth":0.5,"fill":{"gradient":"linear","x1":0,"y1":1,"x2":0,"y2":0,"stops":[{"offset":0,"color":"#000004"},{"offset":0.2,"color":"#420a68"},{"offset":0.4,"color":"#932667"},{"offset":0.6,"color":"#dd513a"},{"offset":0.8,"color":"#fca50a"},{"offset":1,"color":"#fcffa4"}]}},
"encoding":{"y":{"field":"lo","type":"quantitative","title":null,"scale":{"domain":[-1.36,0.572],"nice":false,"zero":false},"axis":{"orient":"left","values":[-1.36,-0.99,-0.62,-0.24,0.13],"labelExpr":"datum.value==0.13?'0.13 V':(datum.value<0?'− '+format(-datum.value,'.2f'):format(datum.value,'.2f'))","domain":false,"ticks":false,"labelFontSize":7,"labelPadding":3}},"y2":{"field":"hi"}}},

{"width":160,"height":121,
"title":{"text":"C","anchor":"start","frame":"bounds","fontSize":9,"fontWeight":"bold","offset":11,"dx":-15},
"layer":[
{"layer":[
{"data":{"name":"C_tr"},"mark":{"type":"line","strokeWidth":1.1},"encoding":{"x":{"field":"x","type":"quantitative","scale":{"domain":[0,10800],"nice":false,"zero":false},"axis":null},"y":{"field":"p","type":"quantitative","scale":{"domain":[-1.6,0.8],"reverse":true,"nice":false,"zero":false},"axis":null},"color":{"field":"t","type":"nominal","scale":{"domain":["1st","2nd","3rd"],"range":["#4b2a8c","#9b63e6","#caa6f2"]},"legend":null}}},
{"data":{"name":"C_seg"},"mark":{"type":"rule","strokeDash":[4,2],"strokeWidth":1.5,"color":"#1a3fe0"},"encoding":{"x":{"field":"x","type":"quantitative","axis":null},"x2":{"field":"x2"},"y":{"field":"p","type":"quantitative","axis":null}}},
{"data":{"name":"C_box"},"mark":{"type":"rule","strokeDash":[3,2],"strokeWidth":1.2,"color":"#1a3fe0"},"encoding":{"x":{"field":"x","type":"quantitative","axis":null},"x2":{"field":"x2"},"y":{"field":"p","type":"quantitative","axis":null},"y2":{"field":"p2"}}},
{"data":{"name":"C_org"},"mark":{"type":"rule","strokeWidth":1.2,"color":"#f5a623"},"encoding":{"x":{"field":"x","type":"quantitative","axis":null},"x2":{"field":"x2"},"y":{"field":"p","type":"quantitative","axis":null},"y2":{"field":"p2"}}},
{"data":{"name":"C_arr"},"mark":{"type":"rule","strokeWidth":1.2,"color":"#1a3fe0"},"encoding":{"x":{"field":"x","type":"quantitative","axis":null},"y":{"field":"p1","type":"quantitative","axis":null},"y2":{"field":"p2"}}},
{"data":{"name":"C_arr"},"mark":{"type":"point","filled":true,"opacity":1,"size":14,"color":"#1a3fe0"},"encoding":{"x":{"field":"x","type":"quantitative","axis":null},"y":{"field":"p2","type":"quantitative","axis":null},"shape":{"field":"d","type":"nominal","scale":{"domain":["down","up"],"range":["triangle-down","triangle-up"]},"legend":null}}},
{"data":{"name":"C_lg"},"mark":{"type":"rule","strokeWidth":1.2},"encoding":{"x":{"field":"x","type":"quantitative","axis":null},"x2":{"field":"x2"},"y":{"field":"p","type":"quantitative","axis":null},"color":{"field":"t","type":"nominal","legend":null}}},
{"data":{"name":"C_tlg"},"mark":{"type":"rule","strokeWidth":0.8,"color":"#000"},"encoding":{"x":{"field":"x","type":"quantitative","axis":null},"x2":{"field":"x2"},"y":{"field":"p","type":"quantitative","axis":null},"strokeDash":{"field":"s","type":"nominal","scale":{"domain":["1st","2nd"],"range":[[1,0],[1.5,1]]},"legend":null}}},
{"data":{"name":"C_txt"},"mark":{"type":"text","fontWeight":"bold"},"encoding":{"x":{"field":"x","type":"quantitative","axis":null},"y":{"field":"p","type":"quantitative","axis":null},"text":{"field":"t"},"fill":{"field":"k","type":"nominal","scale":{"domain":["lab","box","cu","org","ttl","sw","tr","lam","p1","p2","p3"],"range":["#1a3fe0","#111","#111","#f5a623","#111","#111","#111","#111","#4b2a8c","#9b63e6","#caa6f2"]},"legend":null},"size":{"field":"k","type":"nominal","scale":{"domain":["lab","box","cu","org","ttl","sw","tr","lam","p1","p2","p3"],"range":[5.5,6.5,7,5,5.5,4,4.5,4,4.5,4.5,4.5]},"legend":null}}},
{"data":{"name":"C_ltxt"},"mark":{"type":"text","fontWeight":"bold","align":"left"},"encoding":{"x":{"field":"x","type":"quantitative","axis":null},"y":{"field":"p","type":"quantitative","axis":null},"text":{"field":"t"},"fill":{"field":"k","type":"nominal","legend":null},"size":{"field":"k","type":"nominal","legend":null}}}
]},
{"data":{"values":[{"ax":0,"ap":-1.6},{"ax":10800,"ap":0.8}]},"mark":{"type":"point","opacity":0},"encoding":{"x":{"field":"ax","type":"quantitative","title":"x(μm)","scale":{"domain":[0,10800],"nice":false,"zero":false},"axis":{"orient":"bottom","values":[0,2160,4320,6480,8640,10800],"format":"d"}},"y":{"field":"ap","type":"quantitative","title":"Potential (V, SHE)","scale":{"domain":[-1.6,0.8],"reverse":true,"nice":false,"zero":false},"axis":{"orient":"left","values":[-1.6,-1.2,-0.8,-0.4,0,0.4,0.8],"format":".1f","titleColor":"#4a1470","labelColor":"#2a0a40","titleFontSize":10.5}}}},
{"data":{"values":[{"c":-5.2},{"c":-2.8}]},"mark":{"type":"point","opacity":0},"encoding":{"y":{"field":"c","type":"quantitative","title":"Chemical Potential μ(eV)","scale":{"domain":[-5.2,-2.8],"nice":false,"zero":false},"axis":{"orient":"left","offset":40,"values":[-5.2,-4.8,-4.4,-4.0,-3.6,-3.2,-2.8],"format":".1f","labelColor":"#a855f7","titleColor":"#a855f7","domainColor":"#a855f7","tickColor":"#a855f7","titleFontSize":10}}}},
{"data":{"name":"C_topo"},"mark":{"type":"line","strokeWidth":0.9,"color":"#000"},"encoding":{"x":{"field":"x","type":"quantitative","scale":{"domain":[0,10800],"nice":false,"zero":false},"axis":null},"y":{"field":"z","type":"quantitative","title":"z(μm)","scale":{"domain":[-928,400],"nice":false,"zero":false},"axis":{"orient":"right","values":[-800,-600,-400,-200,0,200,400]}},"strokeDash":{"field":"s","type":"nominal","scale":{"domain":["1st","2nd"],"range":[[1,0],[1.5,1]]},"legend":null}}}
],
"resolve":{"scale":{"x":"independent","y":"independent"}}},

{"width":218,"height":91,"view":{"stroke":null},
"title":{"text":"D","anchor":"start","frame":"bounds","fontSize":9,"fontWeight":"bold","offset":11,"dx":34},
"layer":[
{"data":{"name":"box"},"mark":{"type":"rule","color":"#b0b0b0","strokeWidth":0.7},"encoding":{"x":{"field":"x","type":"quantitative","title":null,"scale":{"domain":[-1.69,26.62],"reverse":true,"nice":false,"zero":false},"axis":{"values":[0,5,10,15,20],"labelExpr":"datum.value==20?'20μm':datum.label","domain":false,"ticks":false,"labelFontSize":7,"labelPadding":2}},"x2":{"field":"x2"},"y":{"field":"u","type":"quantitative","title":null,"scale":{"domain":[-0.15,4.183],"nice":false,"zero":false},"axis":{"orient":"left","values":[0,1,2],"labelExpr":"datum.value==2?'1.76 V':datum.value==1?'− 0.32':'− 2.40'","domain":false,"ticks":false,"labelFontSize":7,"offset":-40,"labelPadding":2}},"y2":{"field":"u2"}}},
{"data":{"name":"D_surf"},"mark":{"type":"area","fill":{"gradient":"linear","x1":0,"y1":0,"x2":1,"y2":0,"stops":[{"offset":0,"color":"#cf5a68"},{"offset":0.5,"color":"#b8405e"},{"offset":1,"color":"#9a3452"}]}},"encoding":{"x":{"field":"x","type":"quantitative","title":null},"y":{"field":"top","type":"quantitative","title":null},"y2":{"field":"bot"}}},
{"data":{"name":"front"},"mark":{"type":"rule","color":"#333","strokeWidth":0.8,"opacity":0.6},"encoding":{"x":{"field":"x","type":"quantitative","title":null},"x2":{"field":"x2"},"y":{"field":"u","type":"quantitative","title":null},"y2":{"field":"u2"}}},
{"data":{"values":[{"x":9.09,"u":3.61,"t":"ZnO@FTO"}]},"mark":{"type":"text","fontSize":13,"fontWeight":"bold"},"encoding":{"x":{"field":"x","type":"quantitative","title":null},"y":{"field":"u","type":"quantitative","title":null},"text":{"field":"t"}}}
]},

{"width":7,"height":91,"view":{"stroke":null},"data":{"values":[{"lo":-2.40,"hi":1.76}]},
"mark":{"type":"rect","stroke":"#222","strokeWidth":0.5,"fill":{"gradient":"linear","x1":0,"y1":1,"x2":0,"y2":0,"stops":[{"offset":0,"color":"#000004"},{"offset":0.2,"color":"#420a68"},{"offset":0.4,"color":"#932667"},{"offset":0.6,"color":"#dd513a"},{"offset":0.8,"color":"#fca50a"},{"offset":1,"color":"#fcffa4"}]}},
"encoding":{"y":{"field":"lo","type":"quantitative","title":null,"scale":{"domain":[-2.40,3.609],"nice":false,"zero":false},"axis":{"orient":"left","values":[-2.40,-1.36,-0.32,0.72,1.76],"labelExpr":"datum.value==1.76?'1.76 V':(datum.value<0?'− '+format(-datum.value,'.2f'):format(datum.value,'.2f'))","domain":false,"ticks":false,"labelFontSize":7,"labelPadding":3}},"y2":{"field":"hi"}}},

{"width":163,"height":136,
"title":{"text":"E","anchor":"start","frame":"bounds","fontSize":9,"fontWeight":"bold","offset":11,"dx":-12},
"layer":[
{"layer":[
{"data":{"name":"E_tr"},"mark":{"type":"line","strokeWidth":1.1},"encoding":{"x":{"field":"x","type":"quantitative","scale":{"domain":[0,10200],"nice":false,"zero":false},"axis":null},"y":{"field":"p","type":"quantitative","scale":{"domain":[-4.0,0.8],"reverse":true,"nice":false,"zero":false},"axis":null},"color":{"field":"t","type":"nominal","scale":{"domain":["1st","2nd","3rd"],"range":["#d6246e","#f06aa8","#f7b3d2"]},"legend":null}}},
{"data":{"name":"E_seg"},"mark":{"type":"rule","strokeDash":[4,2],"strokeWidth":1.5,"color":"#17998a"},"encoding":{"x":{"field":"x","type":"quantitative","axis":null},"x2":{"field":"x2"},"y":{"field":"p","type":"quantitative","axis":null}}},
{"data":{"name":"E_box"},"mark":{"type":"rule","strokeDash":[1.5,1.5],"strokeWidth":1,"color":"#17998a"},"encoding":{"x":{"field":"x","type":"quantitative","axis":null},"x2":{"field":"x2"},"y":{"field":"p","type":"quantitative","axis":null},"y2":{"field":"p2"}}},
{"data":{"name":"E_arr"},"mark":{"type":"rule","strokeWidth":1.2,"color":"#17998a"},"encoding":{"x":{"field":"x","type":"quantitative","axis":null},"y":{"field":"p1","type":"quantitative","axis":null},"y2":{"field":"p2"}}},
{"data":{"name":"E_arr"},"mark":{"type":"point","filled":true,"opacity":1,"size":14,"color":"#17998a"},"encoding":{"x":{"field":"x","type":"quantitative","axis":null},"y":{"field":"p2","type":"quantitative","axis":null},"shape":{"field":"d","type":"nominal","scale":{"domain":["down","up"],"range":["triangle-down","triangle-up"]},"legend":null}}},
{"data":{"name":"E_lg"},"mark":{"type":"rule","strokeWidth":1.2},"encoding":{"x":{"field":"x","type":"quantitative","axis":null},"x2":{"field":"x2"},"y":{"field":"p","type":"quantitative","axis":null},"color":{"field":"t","type":"nominal","legend":null}}},
{"data":{"name":"E_tlg"},"mark":{"type":"rule","strokeWidth":0.8,"color":"#000"},"encoding":{"x":{"field":"x","type":"quantitative","axis":null},"x2":{"field":"x2"},"y":{"field":"p","type":"quantitative","axis":null},"strokeDash":{"field":"s","type":"nominal","scale":{"domain":["1st","2nd"],"range":[[1,0],[1.5,1]]},"legend":null}}},
{"data":{"name":"E_txt"},"mark":{"type":"text","fontWeight":"bold"},"encoding":{"x":{"field":"x","type":"quantitative","axis":null},"y":{"field":"p","type":"quantitative","axis":null},"text":{"field":"t"},"fill":{"field":"k","type":"nominal","scale":{"domain":["lab","box","cu","org","ttl","sw","tr","lam","p1","p2","p3"],"range":["#17998a","#111","#111","#f39c12","#111","#111","#111","#111","#d6246e","#f06aa8","#f7a8cc"]},"legend":null},"size":{"field":"k","type":"nominal","scale":{"domain":["lab","box","cu","org","ttl","sw","tr","lam","p1","p2","p3"],"range":[5.5,6.5,7,5,5.5,4,4.5,4,4.5,4.5,4.5]},"legend":null}}},
{"data":{"name":"E_ltxt"},"mark":{"type":"text","fontWeight":"bold","align":"left"},"encoding":{"x":{"field":"x","type":"quantitative","axis":null},"y":{"field":"p","type":"quantitative","axis":null},"text":{"field":"t"},"fill":{"field":"k","type":"nominal","legend":null},"size":{"field":"k","type":"nominal","legend":null}}}
]},
{"data":{"values":[{"ax":0,"ap":-4.0},{"ax":10200,"ap":0.8}]},"mark":{"type":"point","opacity":0},"encoding":{"x":{"field":"ax","type":"quantitative","title":"x (μm)","scale":{"domain":[0,10200],"nice":false,"zero":false},"axis":{"orient":"bottom","values":[0,2000,4000,6000,8000,10000],"format":"d"}},"y":{"field":"ap","type":"quantitative","title":"Potential (V, SHE)","scale":{"domain":[-4.0,0.8],"reverse":true,"nice":false,"zero":false},"axis":{"orient":"left","values":[-4.0,-3.6,-3.2,-2.8,-2.4,-2.0,-1.6,-1.2,-0.8,-0.4,0,0.4,0.8],"format":".1f","titleColor":"#c2185b","labelColor":"#8a0f45","titleFontSize":11}}}},
{"data":{"values":[{"c":-5.2},{"c":-0.4}]},"mark":{"type":"point","opacity":0},"encoding":{"y":{"field":"c","type":"quantitative","title":"Chemical Potential μ(eV)","scale":{"domain":[-5.2,-0.4],"nice":false,"zero":false},"axis":{"orient":"left","offset":41,"values":[-5.2,-4.8,-4.4,-4.0,-3.6,-3.2,-2.8,-2.4,-2.0,-1.6,-1.2,-0.8,-0.4],"format":".1f","labelColor":"#ff4fa3","titleColor":"#ff4fa3","domainColor":"#ff4fa3","tickColor":"#ff4fa3","titleFontSize":12}}}},
{"data":{"name":"E_topo"},"mark":{"type":"line","strokeWidth":0.9,"color":"#000"},"encoding":{"x":{"field":"x","type":"quantitative","scale":{"domain":[0,10200],"nice":false,"zero":false},"axis":null},"y":{"field":"z","type":"quantitative","title":"z (μm)","scale":{"domain":[-889,400],"nice":false,"zero":false},"axis":{"orient":"right","values":[-800,-600,-400,-200,0,200,400]}},"strokeDash":{"field":"s","type":"nominal","scale":{"domain":["1st","2nd"],"range":[[1,0],[1.5,1]]},"legend":null}}}
],
"resolve":{"scale":{"x":"independent","y":"independent"}}},

{"width":218,"height":93,"view":{"stroke":null},
"title":{"text":"F","anchor":"start","frame":"bounds","fontSize":9,"fontWeight":"bold","offset":11,"dx":35},
"layer":[
{"data":{"name":"box"},"mark":{"type":"rule","color":"#b0b0b0","strokeWidth":0.7},"encoding":{"x":{"field":"x","type":"quantitative","title":null,"scale":{"domain":[-1.69,26.62],"reverse":true,"nice":false,"zero":false},"axis":{"values":[0,5,10,15,20],"labelExpr":"datum.value==20?'20μm':datum.label","domain":false,"ticks":false,"labelFontSize":7,"labelPadding":2}},"x2":{"field":"x2"},"y":{"field":"u","type":"quantitative","title":null,"scale":{"domain":[-0.15,4.279],"nice":false,"zero":false},"axis":{"orient":"left","values":[0,1,2],"labelExpr":"datum.value==2?'2.68 V':datum.value==1?'0.22':'− 2.24'","domain":false,"ticks":false,"labelFontSize":7,"offset":-40,"labelPadding":2}},"y2":{"field":"u2"}}},
{"data":{"name":"F_surf"},"mark":{"type":"area","fill":{"gradient":"linear","x1":0,"y1":0,"x2":1,"y2":0,"stops":[{"offset":0,"color":"#c9455f"},{"offset":0.5,"color":"#b3385a"},{"offset":1,"color":"#c04262"}]}},"encoding":{"x":{"field":"x","type":"quantitative","title":null},"y":{"field":"top","type":"quantitative","title":null},"y2":{"field":"bot"}}},
{"data":{"name":"front"},"mark":{"type":"rule","color":"#333","strokeWidth":0.8,"opacity":0.35},"encoding":{"x":{"field":"x","type":"quantitative","title":null},"x2":{"field":"x2"},"y":{"field":"u","type":"quantitative","title":null},"y2":{"field":"u2"}}},
{"data":{"values":[{"x":8.44,"u":3.56,"t":"TiO₂@ITO"}]},"mark":{"type":"text","fontSize":13,"fontWeight":"bold"},"encoding":{"x":{"field":"x","type":"quantitative","title":null},"y":{"field":"u","type":"quantitative","title":null},"text":{"field":"t"}}}
]},

{"width":7,"height":95,"view":{"stroke":null},"data":{"values":[{"lo":-2.24,"hi":2.68}]},
"mark":{"type":"rect","stroke":"#222","strokeWidth":0.5,"fill":{"gradient":"linear","x1":0,"y1":1,"x2":0,"y2":0,"stops":[{"offset":0,"color":"#000004"},{"offset":0.2,"color":"#420a68"},{"offset":0.4,"color":"#932667"},{"offset":0.6,"color":"#dd513a"},{"offset":0.8,"color":"#fca50a"},{"offset":1,"color":"#fcffa4"}]}},
"encoding":{"y":{"field":"lo","type":"quantitative","title":null,"scale":{"domain":[-2.24,4.842],"nice":false,"zero":false},"axis":{"orient":"left","values":[-2.24,-1.01,0.22,1.45,2.68],"labelExpr":"datum.value==2.68?'2.68 V':(datum.value<0?'− '+format(-datum.value,'.2f'):format(datum.value,'.2f'))","domain":false,"ticks":false,"labelFontSize":7,"labelPadding":3}},"y2":{"field":"hi"}}},

{"width":163,"height":128,
"title":{"text":"G","anchor":"start","frame":"bounds","fontSize":9,"fontWeight":"bold","offset":11,"dx":-15},
"layer":[
{"layer":[
{"data":{"name":"G_tr"},"mark":{"type":"line","strokeWidth":1.1},"encoding":{"x":{"field":"x","type":"quantitative","scale":{"domain":[0,9900],"nice":false,"zero":false},"axis":null},"y":{"field":"p","type":"quantitative","scale":{"domain":[-1.6,0.8],"reverse":true,"nice":false,"zero":false},"axis":null},"color":{"field":"t","type":"nominal","scale":{"domain":["1st","2nd","3rd"],"range":["#5e2a9e","#9b63e6","#caa6f2"]},"legend":null}}},
{"data":{"name":"G_seg"},"mark":{"type":"rule","strokeDash":[4,2],"strokeWidth":1.5,"color":"#1a3fe0"},"encoding":{"x":{"field":"x","type":"quantitative","axis":null},"x2":{"field":"x2"},"y":{"field":"p","type":"quantitative","axis":null}}},
{"data":{"name":"G_box"},"mark":{"type":"rule","strokeDash":[3,2],"strokeWidth":1.2,"color":"#1a3fe0"},"encoding":{"x":{"field":"x","type":"quantitative","axis":null},"x2":{"field":"x2"},"y":{"field":"p","type":"quantitative","axis":null},"y2":{"field":"p2"}}},
{"data":{"name":"G_arr"},"mark":{"type":"rule","strokeWidth":1.2,"color":"#1a3fe0"},"encoding":{"x":{"field":"x","type":"quantitative","axis":null},"y":{"field":"p1","type":"quantitative","axis":null},"y2":{"field":"p2"}}},
{"data":{"name":"G_arr"},"mark":{"type":"point","filled":true,"opacity":1,"size":14,"color":"#1a3fe0"},"encoding":{"x":{"field":"x","type":"quantitative","axis":null},"y":{"field":"p2","type":"quantitative","axis":null},"shape":{"field":"d","type":"nominal","scale":{"domain":["down","up"],"range":["triangle-down","triangle-up"]},"legend":null}}},
{"data":{"name":"G_lg"},"mark":{"type":"rule","strokeWidth":1.2},"encoding":{"x":{"field":"x","type":"quantitative","axis":null},"x2":{"field":"x2"},"y":{"field":"p","type":"quantitative","axis":null},"color":{"field":"t","type":"nominal","legend":null}}},
{"data":{"name":"G_tlg"},"mark":{"type":"rule","strokeWidth":0.8,"color":"#000"},"encoding":{"x":{"field":"x","type":"quantitative","axis":null},"x2":{"field":"x2"},"y":{"field":"p","type":"quantitative","axis":null},"strokeDash":{"field":"s","type":"nominal","scale":{"domain":["1st","2nd"],"range":[[1,0],[1.5,1]]},"legend":null}}},
{"data":{"name":"G_txt"},"mark":{"type":"text","fontWeight":"bold"},"encoding":{"x":{"field":"x","type":"quantitative","axis":null},"y":{"field":"p","type":"quantitative","axis":null},"text":{"field":"t"},"fill":{"field":"k","type":"nominal","scale":{"domain":["lab","box","cu","org","ttl","sw","tr","lam","p1","p2","p3"],"range":["#1a3fe0","#111","#111","#f5a623","#111","#111","#111","#111","#5e2a9e","#9b63e6","#caa6f2"]},"legend":null},"size":{"field":"k","type":"nominal","scale":{"domain":["lab","box","cu","org","ttl","sw","tr","lam","p1","p2","p3"],"range":[5.5,6,7,5,5.5,4,4.5,4,4.5,4.5,4.5]},"legend":null}}},
{"data":{"name":"G_ltxt"},"mark":{"type":"text","fontWeight":"bold","align":"left"},"encoding":{"x":{"field":"x","type":"quantitative","axis":null},"y":{"field":"p","type":"quantitative","axis":null},"text":{"field":"t"},"fill":{"field":"k","type":"nominal","legend":null},"size":{"field":"k","type":"nominal","legend":null}}}
]},
{"data":{"values":[{"ax":0,"ap":-1.6},{"ax":9900,"ap":0.8}]},"mark":{"type":"point","opacity":0},"encoding":{"x":{"field":"ax","type":"quantitative","title":"x(μm)","scale":{"domain":[0,9900],"nice":false,"zero":false},"axis":{"orient":"bottom","values":[0,1980,3960,5940,7920,9900],"format":"d"}},"y":{"field":"ap","type":"quantitative","title":"Potential (V, SHE)","scale":{"domain":[-1.6,0.8],"reverse":true,"nice":false,"zero":false},"axis":{"orient":"left","values":[-1.6,-1.2,-0.8,-0.4,0,0.4,0.8],"format":".1f","titleColor":"#3b1166","labelColor":"#2a0a40","titleFontSize":11}}}},
{"data":{"values":[{"c":-5.2},{"c":-2.8}]},"mark":{"type":"point","opacity":0},"encoding":{"y":{"field":"c","type":"quantitative","title":"Chemical Potential μ(eV)","scale":{"domain":[-5.2,-2.8],"nice":false,"zero":false},"axis":{"orient":"left","offset":38,"values":[-5.2,-4.8,-4.4,-4.0,-3.6,-3.2,-2.8],"format":".1f","labelColor":"#b266ff","titleColor":"#b266ff","domainColor":"#b266ff","tickColor":"#b266ff","titleFontSize":10.5}}}},
{"data":{"name":"G_topo"},"mark":{"type":"line","strokeWidth":0.9,"color":"#000"},"encoding":{"x":{"field":"x","type":"quantitative","scale":{"domain":[0,9900],"nice":false,"zero":false},"axis":null},"y":{"field":"z","type":"quantitative","title":"z (μm)","scale":{"domain":[-900,400],"nice":false,"zero":false},"axis":{"orient":"right","values":[-800,-600,-400,-200,0,200,400]}},"strokeDash":{"field":"s","type":"nominal","scale":{"domain":["1st","2nd"],"range":[[1,0],[1.5,1]]},"legend":null}}}
],
"resolve":{"scale":{"x":"independent","y":"independent"}}},

{"width":218,"height":99,"view":{"stroke":null},
"title":{"text":"H","anchor":"start","frame":"bounds","fontSize":9,"fontWeight":"bold","offset":11,"dx":35},
"layer":[
{"data":{"name":"box"},"mark":{"type":"rule","color":"#b0b0b0","strokeWidth":0.7},"encoding":{"x":{"field":"x","type":"quantitative","title":null,"scale":{"domain":[-1.69,26.62],"reverse":true,"nice":false,"zero":false},"axis":{"values":[0,5,10,15,20],"labelExpr":"datum.value==20?'20μm':datum.label","domain":false,"ticks":false,"labelFontSize":7,"labelPadding":2}},"x2":{"field":"x2"},"y":{"field":"u","type":"quantitative","title":null,"scale":{"domain":[-0.15,4.564],"nice":false,"zero":false},"axis":{"orient":"left","values":[0,1,2],"labelExpr":"datum.value==2?'2.30 V':datum.value==1?'0.20':'− 1.90'","domain":false,"ticks":false,"labelFontSize":7,"offset":-40,"labelPadding":2}},"y2":{"field":"u2"}}},
{"data":{"name":"H_surf"},"mark":{"type":"area","fill":{"gradient":"linear","x1":0,"y1":0,"x2":1,"y2":0,"stops":[{"offset":0,"color":"#d94a62"},{"offset":0.5,"color":"#cf3f5e"},{"offset":1,"color":"#d24662"}]}},"encoding":{"x":{"field":"x","type":"quantitative","title":null},"y":{"field":"top","type":"quantitative","title":null},"y2":{"field":"bot"}}},
{"data":{"values":[{"x":8.87,"u":3.33,"t":"TiO₂@FTO"}]},"mark":{"type":"text","fontSize":13,"fontWeight":"bold"},"encoding":{"x":{"field":"x","type":"quantitative","title":null},"y":{"field":"u","type":"quantitative","title":null},"text":{"field":"t"}}}
]},

{"width":7,"height":105,"view":{"stroke":null},"data":{"values":[{"lo":-1.90,"hi":2.30}]},
"mark":{"type":"rect","stroke":"#222","strokeWidth":0.5,"fill":{"gradient":"linear","x1":0,"y1":1,"x2":0,"y2":0,"stops":[{"offset":0,"color":"#000004"},{"offset":0.2,"color":"#420a68"},{"offset":0.4,"color":"#932667"},{"offset":0.6,"color":"#dd513a"},{"offset":0.8,"color":"#fca50a"},{"offset":1,"color":"#fcffa4"}]}},
"encoding":{"y":{"field":"lo","type":"quantitative","title":null,"scale":{"domain":[-1.90,5.213],"nice":false,"zero":false},"axis":{"orient":"left","values":[-1.90,-0.85,0.20,1.25,2.30],"labelExpr":"datum.value==2.3?'2.30 V':(datum.value<0?'− '+format(-datum.value,'.2f'):format(datum.value,'.2f'))","domain":false,"ticks":false,"labelFontSize":7,"labelPadding":3}},"y2":{"field":"hi"}}}
]
}
